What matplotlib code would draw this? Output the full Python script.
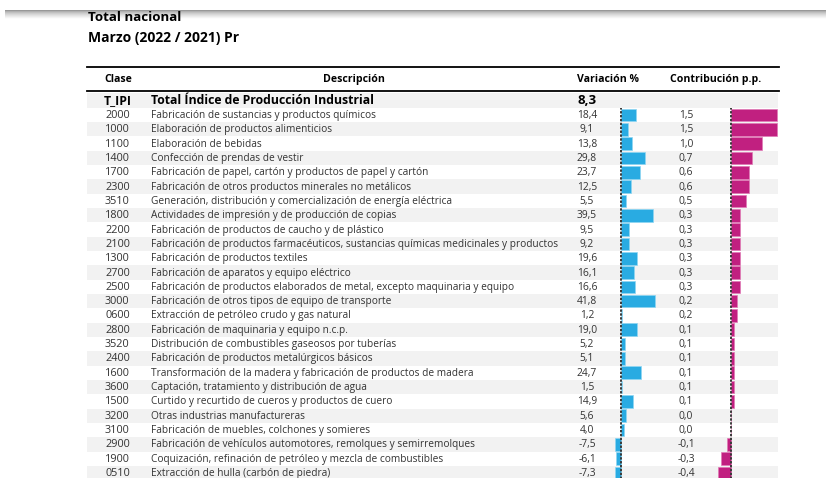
import matplotlib.pyplot as plt
from matplotlib.patches import Rectangle
import numpy as np

titulo = 'Total nacional'
subtitulo = 'Marzo (2022 / 2021) Pr'
encabezados = ['Clase', 'Descripción', 'Variación %', 'Contribución p.p.']

total_clase = 'T_IPI'
total_desc = 'Total Índice de Producción Industrial'
total_var = 8.3

clase = ['2000', '1000', '1100', '1400', '1700', '2300', '3510', '1800',
         '2200', '2100', '1300', '2700', '2500', '3000', '0600', '2800',
         '3520', '2400', '1600', '3600', '1500', '3200', '3100', '2900',
         '1900', '0510']

descripcion = [
    'Fabricación de sustancias y productos químicos',
    'Elaboración de productos alimenticios',
    'Elaboración de bebidas',
    'Confección de prendas de vestir',
    'Fabricación de papel, cartón y productos de papel y cartón',
    'Fabricación de otros productos minerales no metálicos',
    'Generación, distribución y comercialización de energía eléctrica',
    'Actividades de impresión y de producción de copias',
    'Fabricación de productos de caucho y de plástico',
    'Fabricación de productos farmacéuticos, sustancias químicas medicinales y productos',
    'Fabricación de productos textiles',
    'Fabricación de aparatos y equipo eléctrico',
    'Fabricación de productos elaborados de metal, excepto maquinaria y equipo',
    'Fabricación de otros tipos de equipo de transporte',
    'Extracción de petróleo crudo y gas natural',
    'Fabricación de maquinaria y equipo n.c.p.',
    'Distribución de combustibles gaseosos por tuberías',
    'Fabricación de productos metalúrgicos básicos',
    'Transformación de la madera y fabricación de productos de madera',
    'Captación, tratamiento y distribución de agua',
    'Curtido y recurtido de cueros y productos de cuero',
    'Otras industrias manufactureras',
    'Fabricación de muebles, colchones y somieres',
    'Fabricación de vehículos automotores, remolques y semirremolques',
    'Coquización, refinación de petróleo y mezcla de combustibles',
    'Extracción de hulla (carbón de piedra)',
]

variacion = [18.4, 9.1, 13.8, 29.8, 23.7, 12.5, 5.5, 39.5, 9.5, 9.2, 19.6,
             16.1, 16.6, 41.8, 1.2, 19.0, 5.2, 5.1, 24.7, 1.5, 14.9, 5.6,
             4.0, -7.5, -6.1, -7.3]

contribucion = [1.5, 1.5, 1.0, 0.7, 0.6, 0.6, 0.5, 0.3, 0.3, 0.3, 0.3, 0.3,
                0.3, 0.2, 0.2, 0.1, 0.1, 0.1, 0.1, 0.1, 0.1, 0.0, 0.0, -0.1,
                -0.3, -0.4]


def fmt(v):
    return f'{v:.1f}'.replace('.', ',')


W, H = 826, 478
plt.rcParams['font.family'] = ['Open Sans', 'DejaVu Sans']

fig = plt.figure(figsize=(W / 100, H / 100), dpi=100)
ax = fig.add_axes([0, 0, 1, 1])
ax.set_xlim(0, W)
ax.set_ylim(H, 0)
ax.axis('off')

# sombra gris arriba
grad = np.linspace(0, 1, 20) ** 0.6
grad = 0.55 + 0.45 * grad
ax.imshow(np.tile(grad[:, None], (1, 10)), cmap='gray', vmin=0, vmax=1,
          extent=(5, W, 19, 10), aspect='auto', zorder=0)
ax.set_xlim(0, W)
ax.set_ylim(H, 0)

ax.text(88, 17.5, titulo, fontsize=9.6, fontweight='bold', va='center',
        family=['Liberation Sans Narrow', 'Open Sans'])
ax.text(88, 38, subtitulo, fontsize=10, fontweight='bold', va='center',
        family=['Liberation Sans Narrow', 'Open Sans'])

x0, x1 = 87, 778
ax.plot([x0, x1 + 1], [67, 67], color='black', lw=1.3)
ax.plot([x0, x1 + 1], [91, 91], color='black', lw=1.3)

hx = [118, 354, 608, 716]
for x, t in zip(hx, encabezados):
    ax.text(x, 79.5, t, fontsize=7.6, fontweight='bold', ha='center', va='center')

# fila total
ax.add_patch(Rectangle((x0, 92.5), x1 - x0, 15, color='#f2f2f2', zorder=0, lw=0))
ax.text(104, 100.5, total_clase, fontsize=8.8, fontweight='bold', va='center')
ax.text(151, 100.5, total_desc, fontsize=8.8, fontweight='bold', va='center')
ax.text(587, 100.5, fmt(total_var), fontsize=9.5, fontweight='bold',
        ha='center', va='center')

y0, dy = 115, 14.32
n = len(clase)
txt = '#333333'
for i in range(n):
    y = y0 + dy * i
    if i % 2 == 1:
        ax.add_patch(Rectangle((x0, y - dy / 2), x1 - x0, dy, color='#f2f2f2',
                               zorder=0, lw=0))
    ax.text(105, y + 0.5, clase[i], fontsize=7.8, color=txt, va='center')
    ax.text(151, y + 0.5, descripcion[i], fontsize=7.25, color=txt, va='center')
    ax.text(587, y + 0.5, fmt(variacion[i]), fontsize=7.4, color=txt, ha='center', va='center')
    ax.text(686, y + 0.5, fmt(contribucion[i]), fontsize=7.4, color=txt, ha='center', va='center')

top_px = y0 - dy / 2
h_px = dy * n


def bar_axes(zero_px, px_per_unit, lo, hi):
    left = zero_px + lo * px_per_unit
    width = (hi - lo) * px_per_unit
    a = fig.add_axes([left / W, 1 - (top_px + h_px) / H, width / W, h_px / H])
    a.set_xlim(lo, hi)
    a.set_ylim(n - 0.5, -0.5)
    a.axis('off')
    a.patch.set_alpha(0)
    return a


yy = np.arange(n)
axv = bar_axes(621, 0.82, -10, 45)
axv.barh(yy, variacion, height=0.88, color='#29abe2', edgecolor='#8fd6f2', lw=0.5)
axv.axvline(0, color='#3a3a3a', lw=1.4, ls=(0, (1.2, 0.8)))

axc = bar_axes(730.5, 31.0, -0.5, 1.55)
axc.barh(yy, contribucion, height=0.88, color='#c12080', edgecolor='#e07ab5', lw=0.5)
axc.axvline(0, color='#3a3a3a', lw=1.4, ls=(0, (1.2, 0.8)))

fig.savefig('out.png', dpi=100)
